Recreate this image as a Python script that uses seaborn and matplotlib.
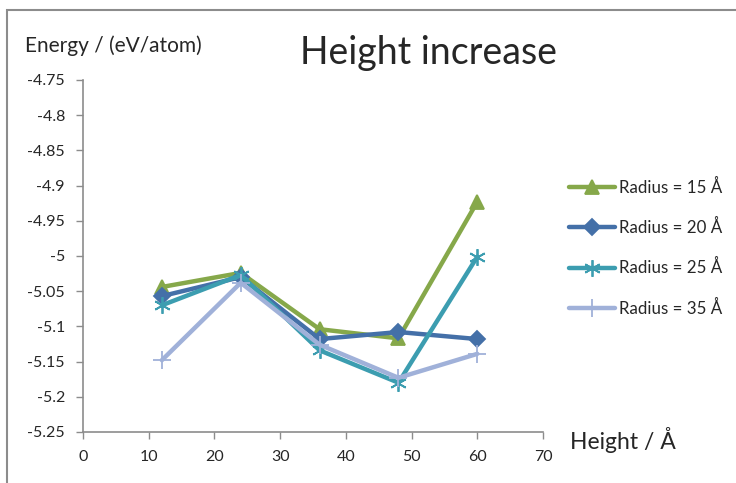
import matplotlib
matplotlib.use("Agg")
import matplotlib.pyplot as plt
import seaborn as sns
import pandas as pd
from matplotlib.patches import Rectangle

heights = [12, 24, 36, 48, 60]
radius_labels = ["Radius = 15 Å", "Radius = 20 Å", "Radius = 25 Å", "Radius = 35 Å"]
energy_r15 = [-5.044, -5.024, -5.104, -5.117, -4.923]
energy_r20 = [-5.057, -5.030, -5.118, -5.108, -5.118]
energy_r25 = [-5.070, -5.027, -5.134, -5.180, -5.001]
energy_r35 = [-5.148, -5.038, -5.126, -5.173, -5.139]
x_ticks = [0, 10, 20, 30, 40, 50, 60, 70]
y_ticks = [-4.75, -4.8, -4.85, -4.9, -4.95, -5, -5.05, -5.1, -5.15, -5.2, -5.25]
y_tick_labels = ["-4.75", "-4.8", "-4.85", "-4.9", "-4.95", "-5", "-5.05", "-5.1", "-5.15", "-5.2", "-5.25"]

colors = ["#86A84A", "#4470A8", "#3C9DB0", "#A0B1D9"]
markers = ["^", "D", (6, 2, 0), "+"]
sizes = [10, 8, 12, 13]

sns.set_theme(style="white")
plt.rcParams["font.family"] = ["Lato", "DejaVu Sans"]

series = [energy_r15, energy_r20, energy_r25, energy_r35]

fig = plt.figure(figsize=(7.36, 4.83), dpi=100)
ax = fig.add_axes([0.1128, 0.1056, 0.625, 0.7288])

handles = []
for vals, lab, c, m, s in zip(series, radius_labels, colors, markers, sizes):
    df = pd.DataFrame({"Height": heights, "Energy": vals})
    sns.lineplot(data=df, x="Height", y="Energy", color=c, marker=m,
                 linewidth=3.2, ax=ax, legend=False, sort=False)
    line = ax.get_lines()[-1]
    line.set_markersize(s)
    line.set_markeredgecolor(c)
    line.set_markerfacecolor(c)
    line.set_markeredgewidth(1.3)
    line.set_solid_joinstyle("round")
    handles.append(line)

ax.set_xlim(0, 70)
ax.set_ylim(-5.25, -4.75)
ax.set_xticks(x_ticks)
ax.set_yticks(y_ticks)
ax.set_yticklabels(y_tick_labels)
ax.set_xlabel("")
ax.set_ylabel("")
ax.tick_params(axis="both", which="both", direction="out", length=5, width=1,
               color="#8C8C8C", labelsize=11.5, pad=8, left=True, bottom=True)
for side in ["top", "right"]:
    ax.spines[side].set_visible(False)
for side in ["left", "bottom"]:
    ax.spines[side].set_color("#8C8C8C")
    ax.spines[side].set_linewidth(1.2)

fig.text(0.582, 0.89, "Height increase", ha="center", va="center", fontsize=27)
fig.text(0.034, 0.905, "Energy / (eV/atom)", ha="left", va="center", fontsize=15)
fig.text(0.774, 0.088, "Height / Å", ha="left", va="center", fontsize=16.5)

leg = fig.legend(handles, radius_labels, loc="center left",
                 bbox_to_anchor=(0.753, 0.487), frameon=False, fontsize=12.2,
                 handlelength=2.7, labelspacing=1.38, handletextpad=0.25)

# chart area border
fig.patches.append(Rectangle((0.0095, -0.1), 1.2, 1.079, transform=fig.transFigure,
                             fill=False, edgecolor="#8C8C8C", linewidth=1.5))

fig.savefig("out.png", dpi=100)
